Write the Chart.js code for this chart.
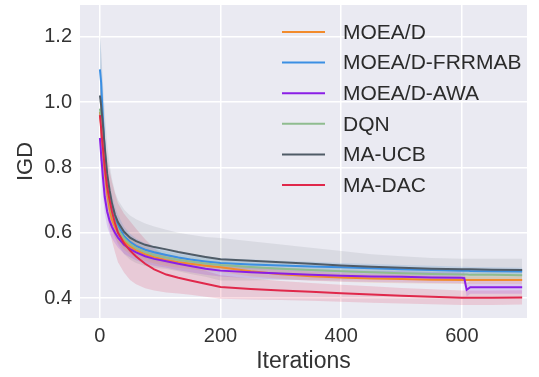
<!DOCTYPE html>
<html lang="en">
<head>
<meta charset="UTF-8">
<title>IGD x Iterations</title>
<script src="https://cdn.jsdelivr.net/npm/chart.js"></script>
<style>
  body { margin: 0; background: #ffffff; }
  #grafico { display: block; }
</style>
</head>
<body>
<canvas id="grafico" width="539" height="377"></canvas>
<script>
const iteracoes = [0, 2, 5, 8, 12, 16, 20, 25, 30, 40, 50, 60, 75, 90, 110, 130, 150, 175, 200, 250, 300, 350, 400, 450, 500, 550, 600, 604, 608, 614, 650, 700];

const nomes = ['MOEA/D', 'MOEA/D-FRRMAB', 'MOEA/D-AWA', 'DQN', 'MA-UCB', 'MA-DAC'];
const cores = ['#f28b2c', '#3b8fe3', '#8a1ee6', '#8fbc8f', '#4f5b66', '#e0284b'];
const alfas = [0.16, 0.16, 0.16, 0.16, 0.11, 0.16];

// mean IGD of each algorithm
const moead  = [0.97, 0.93, 0.86, 0.79, 0.72, 0.675, 0.64, 0.618, 0.60, 0.575, 0.558, 0.546, 0.534, 0.525, 0.516, 0.51, 0.505, 0.499, 0.494, 0.482, 0.473, 0.467, 0.463, 0.46, 0.458, 0.456, 0.455, 0.455, 0.455, 0.455, 0.455, 0.455];
const frrmab = [1.10, 1.06, 0.95, 0.85, 0.76, 0.71, 0.675, 0.645, 0.622, 0.59, 0.572, 0.56, 0.548, 0.54, 0.532, 0.524, 0.518, 0.512, 0.507, 0.503, 0.5, 0.497, 0.494, 0.491, 0.488, 0.486, 0.484, 0.484, 0.484, 0.483, 0.482, 0.481];
const awa    = [0.89, 0.84, 0.77, 0.71, 0.665, 0.637, 0.618, 0.60, 0.585, 0.563, 0.55, 0.54, 0.528, 0.52, 0.513, 0.505, 0.498, 0.49, 0.484, 0.479, 0.475, 0.471, 0.468, 0.466, 0.465, 0.463, 0.462, 0.461, 0.425, 0.433, 0.433, 0.433];
const dqn    = [0.98, 0.95, 0.88, 0.81, 0.74, 0.695, 0.66, 0.632, 0.61, 0.582, 0.565, 0.553, 0.541, 0.532, 0.524, 0.517, 0.512, 0.506, 0.501, 0.495, 0.49, 0.486, 0.482, 0.479, 0.476, 0.474, 0.472, 0.472, 0.472, 0.471, 0.471, 0.47];
const maucb  = [1.02, 0.99, 0.93, 0.86, 0.78, 0.73, 0.69, 0.655, 0.632, 0.603, 0.585, 0.574, 0.563, 0.556, 0.549, 0.541, 0.534, 0.526, 0.519, 0.514, 0.51, 0.505, 0.5, 0.496, 0.493, 0.49, 0.488, 0.488, 0.488, 0.488, 0.487, 0.486];
const madac  = [0.96, 0.92, 0.86, 0.80, 0.74, 0.70, 0.665, 0.63, 0.60, 0.568, 0.545, 0.527, 0.505, 0.488, 0.472, 0.462, 0.454, 0.444, 0.434, 0.428, 0.423, 0.419, 0.415, 0.411, 0.407, 0.404, 0.401, 0.401, 0.401, 0.401, 0.401, 0.402];

// half width of the shaded band around each mean
const faixaMoead  = [0.08, 0.07, 0.06, 0.05, 0.045, 0.04, 0.035, 0.032, 0.03, 0.027, 0.024, 0.022, 0.02, 0.019, 0.018, 0.017, 0.016, 0.016, 0.015, 0.015, 0.014, 0.014, 0.013, 0.013, 0.013, 0.012, 0.012, 0.012, 0.012, 0.012, 0.012, 0.012];
const faixaFrrmab = [0.1, 0.09, 0.075, 0.06, 0.05, 0.045, 0.04, 0.035, 0.032, 0.028, 0.025, 0.022, 0.02, 0.019, 0.018, 0.017, 0.016, 0.016, 0.015, 0.015, 0.014, 0.014, 0.013, 0.013, 0.013, 0.013, 0.012, 0.012, 0.012, 0.012, 0.012, 0.012];
const faixaAwa    = [0.06, 0.06, 0.055, 0.05, 0.045, 0.04, 0.035, 0.032, 0.03, 0.027, 0.025, 0.024, 0.022, 0.021, 0.02, 0.02, 0.019, 0.019, 0.018, 0.018, 0.018, 0.017, 0.017, 0.017, 0.017, 0.017, 0.017, 0.017, 0.02, 0.02, 0.02, 0.02];
const faixaDqn    = [0.08, 0.07, 0.06, 0.05, 0.045, 0.04, 0.035, 0.032, 0.03, 0.027, 0.024, 0.022, 0.02, 0.019, 0.018, 0.017, 0.016, 0.016, 0.015, 0.015, 0.015, 0.014, 0.014, 0.014, 0.014, 0.014, 0.014, 0.014, 0.014, 0.014, 0.014, 0.014];
const faixaUcb    = [0.2, 0.17, 0.13, 0.11, 0.09, 0.08, 0.075, 0.07, 0.068, 0.068, 0.068, 0.067, 0.065, 0.063, 0.06, 0.059, 0.06, 0.061, 0.065, 0.06, 0.054, 0.049, 0.044, 0.038, 0.035, 0.033, 0.032, 0.032, 0.032, 0.032, 0.033, 0.034];
const faixaDac    = [0.09, 0.09, 0.09, 0.09, 0.09, 0.09, 0.09, 0.09, 0.09, 0.09, 0.09, 0.085, 0.075, 0.065, 0.055, 0.048, 0.044, 0.04, 0.036, 0.032, 0.029, 0.027, 0.026, 0.025, 0.024, 0.023, 0.022, 0.022, 0.022, 0.022, 0.022, 0.022];

const ticksX = [0, 200, 400, 600];
const ticksY = [0.4, 0.6, 0.8, 1.0, 1.2];

const medias = [moead, frrmab, awa, dqn, maucb, madac];
const faixas = [faixaMoead, faixaFrrmab, faixaAwa, faixaDqn, faixaUcb, faixaDac];

function comAlfa(hex, a) {
    const n = parseInt(hex.slice(1), 16);
    return `rgba(${(n >> 16) & 255}, ${(n >> 8) & 255}, ${n & 255}, ${a})`;
}

function pontos(valores) {
    return iteracoes.map((x, j) => ({ x: x, y: valores[j] }));
}

let datasets = [];

// lines first, MA-DAC on top
medias.forEach((media, i) => {
    datasets.push({
        label: nomes[i],
        data: pontos(media),
        borderColor: cores[i],
        borderWidth: 2,
        pointRadius: 0,
        fill: false,
        order: medias.length - i
    });
});

// shaded bands behind the lines
medias.forEach((media, i) => {
    datasets.push({
        label: nomes[i] + ' min',
        data: pontos(media.map((v, j) => v - faixas[i][j])),
        borderWidth: 0,
        pointRadius: 0,
        fill: false,
        order: 20
    });
    datasets.push({
        label: nomes[i] + ' max',
        data: pontos(media.map((v, j) => v + faixas[i][j])),
        borderWidth: 0,
        pointRadius: 0,
        backgroundColor: comAlfa(cores[i], alfas[i]),
        fill: '-1',
        order: 20
    });
});

const fundo = {
    id: 'fundo',
    beforeDraw(chart) {
        const { ctx, chartArea } = chart;
        ctx.save();
        ctx.fillStyle = '#eaeaf2';
        ctx.fillRect(chartArea.left, chartArea.top, chartArea.right - chartArea.left, chartArea.bottom - chartArea.top);
        ctx.restore();
    }
};

// legend inside the plot, top right, line samples
const legenda = {
    id: 'legenda',
    afterDatasetsDraw(chart) {
        const { ctx, chartArea } = chart;
        ctx.save();
        ctx.font = '21px "Liberation Sans", Arial, sans-serif';
        ctx.textBaseline = 'middle';
        nomes.forEach((nome, i) => {
            const x = chartArea.left + 202;
            const y = chartArea.top + 27 + i * 30.6;
            ctx.strokeStyle = cores[i];
            ctx.lineWidth = 2;
            ctx.beginPath();
            ctx.moveTo(x, y);
            ctx.lineTo(x + 43, y);
            ctx.stroke();
            ctx.fillStyle = '#2b2b2b';
            ctx.fillText(nome, x + 61, y + 1);
        });
        ctx.restore();
    }
};

const fonte = '"Liberation Sans", Arial, sans-serif';

new Chart(document.getElementById('grafico'), {
    type: 'line',
    data: { datasets: datasets },
    plugins: [fundo, legenda],
    options: {
        responsive: false,
        animation: false,
        devicePixelRatio: 1,
        layout: { padding: { left: 0, top: 5, right: 12, bottom: 0 } },
        plugins: {
            legend: { display: false },
            tooltip: { enabled: false }
        },
        scales: {
            x: {
                type: 'linear',
                min: -33,
                max: 708,
                afterBuildTicks: (s) => { s.ticks = ticksX.map(v => ({ value: v })); },
                afterFit: (s) => { s.height = 59; s.paddingLeft = 0; s.paddingRight = 0; },
                grid: { color: '#ffffff', lineWidth: 1.5, drawTicks: false },
                border: { display: false },
                ticks: { color: '#333333', font: { family: fonte, size: 20 }, padding: 6, maxRotation: 0 },
                title: { display: true, text: 'Iterations', color: '#333333', font: { family: fonte, size: 23 }, padding: { top: 0, bottom: 2 } }
            },
            y: {
                min: 0.339,
                max: 1.297,
                afterBuildTicks: (s) => { s.ticks = ticksY.map(v => ({ value: v })); },
                afterFit: (s) => { s.width = 80; s.paddingTop = 0; s.paddingBottom = 0; },
                grid: { color: '#ffffff', lineWidth: 1.5, drawTicks: false },
                border: { display: false },
                ticks: { color: '#333333', font: { family: fonte, size: 20 }, padding: 8, callback: (v) => v.toFixed(1) },
                title: { display: true, text: 'IGD', color: '#333333', font: { family: fonte, size: 22 }, padding: { top: 13, bottom: 0 } }
            }
        }
    }
});
</script>
</body>
</html>
